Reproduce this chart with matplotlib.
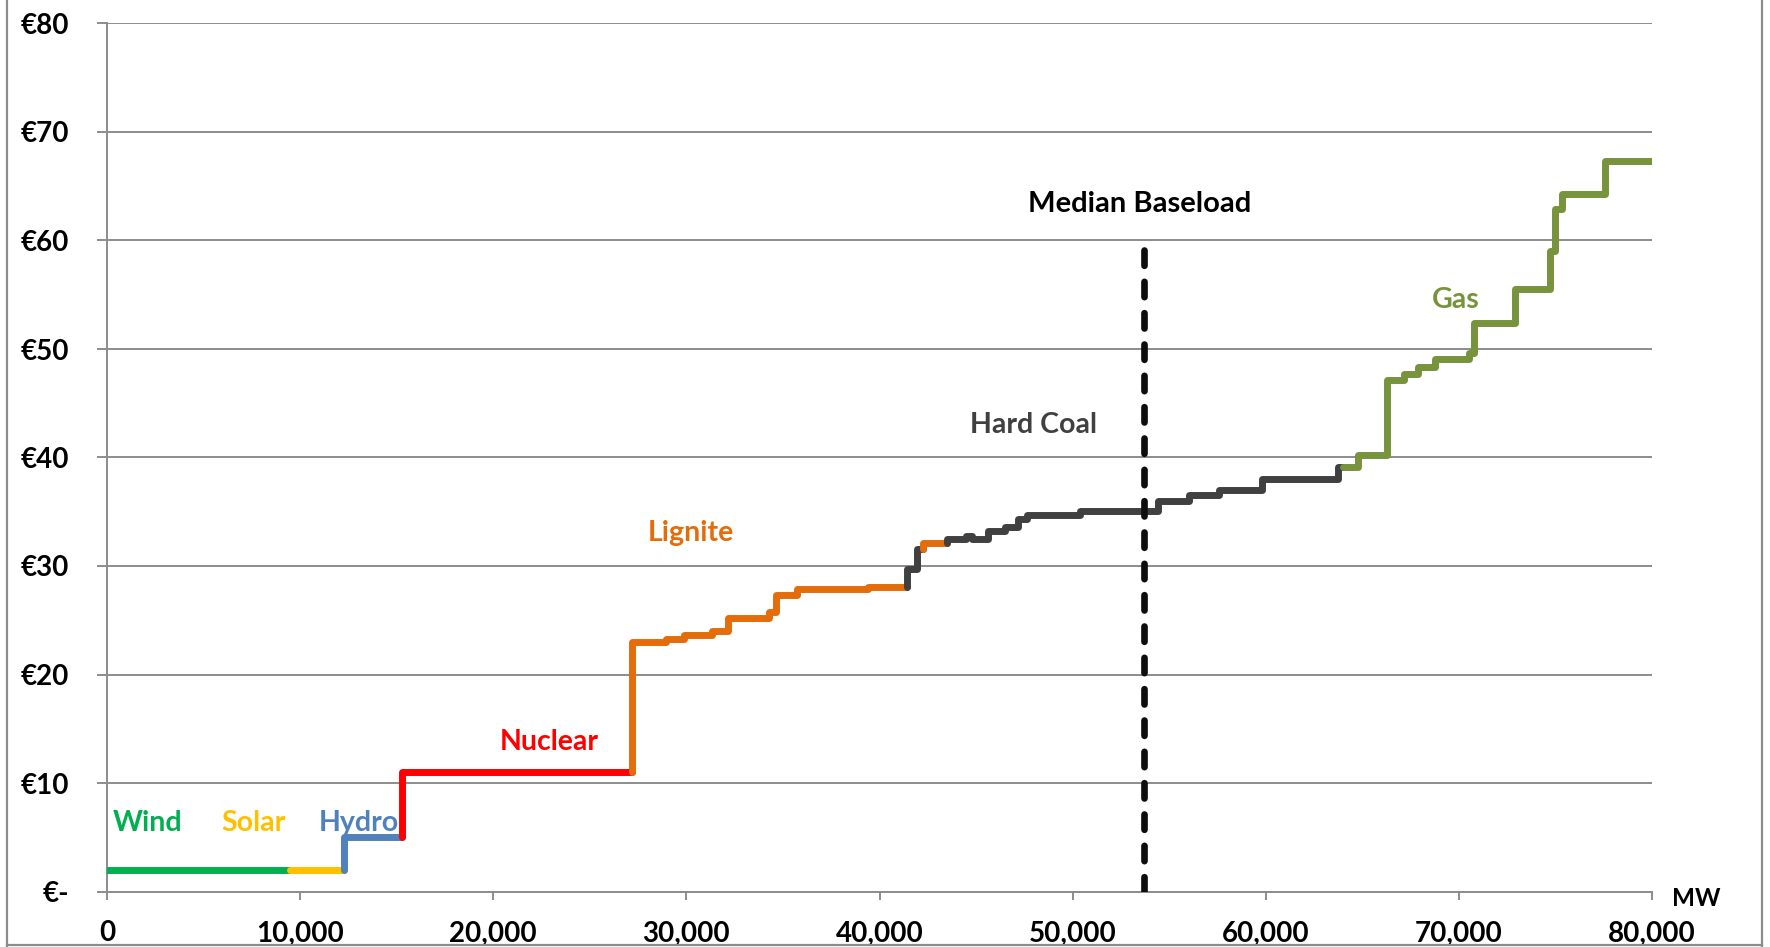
import matplotlib
matplotlib.use("Agg")
import matplotlib.pyplot as plt
from matplotlib.lines import Line2D
from matplotlib.ticker import FixedLocator, FuncFormatter

plt.rcParams['font.family'] = ['Lato', 'DejaVu Sans']
plt.rcParams['font.weight'] = 'bold'

# ---- data: merit-order steps (end capacity in MW, price in EUR/MWh, technology)
step_end_mw = [9480, 12290, 15260, 27200,
               28950, 29880, 31310, 32140, 34280, 34640, 35710, 39420, 41420,
               41960, 42270, 43480, 44480, 44770, 45640, 46500, 47190, 47630,
               50390, 54440, 56050, 57600, 59800, 63760, 64000,
               64800, 66300, 67170, 67860, 68770, 70500, 70760, 72910, 74730,
               74990, 75330, 77570, 80000]
step_price = [2.0, 2.0, 5.0, 11.0,
              23.0, 23.3, 23.6, 24.0, 25.2, 25.8, 27.3, 27.9, 28.1,
              29.7, 31.6, 32.1, 32.5, 32.8, 32.5, 33.2, 33.6, 34.3,
              34.7, 35.1, 36.0, 36.5, 37.0, 38.0, 39.1,
              39.1, 40.2, 47.1, 47.7, 48.3, 49.1, 49.6, 52.4, 55.5,
              59.0, 62.9, 64.3, 67.3]
step_tech = ['Wind', 'Solar', 'Hydro', 'Nuclear',
             'Lignite', 'Lignite', 'Lignite', 'Lignite', 'Lignite', 'Lignite',
             'Lignite', 'Lignite', 'Lignite',
             'Hard Coal', 'Hard Coal', 'Lignite', 'Hard Coal', 'Hard Coal',
             'Hard Coal', 'Hard Coal', 'Hard Coal', 'Hard Coal',
             'Hard Coal', 'Hard Coal', 'Hard Coal', 'Hard Coal', 'Hard Coal',
             'Hard Coal', 'Hard Coal',
             'Gas', 'Gas', 'Gas', 'Gas', 'Gas', 'Gas', 'Gas', 'Gas', 'Gas',
             'Gas', 'Gas', 'Gas', 'Gas']

tech_names = ['Wind', 'Solar', 'Hydro', 'Nuclear', 'Lignite', 'Hard Coal', 'Gas']
tech_colors = ['#00B050', '#FFC000', '#4F81BD', '#FF0000', '#E46C0A', '#404040', '#77933C']
label_mw = [2100, 7560, 13020, 22900, 30220, 47950, 69840]
label_price = [6.3, 6.3, 6.3, 13.8, 33.0, 43.0, 54.5]

median_mw = 53670
median_top = 60
median_label = 'Median Baseload'
median_label_pos = (53460, 63.4)

y_ticks = [0, 10, 20, 30, 40, 50, 60, 70, 80]
x_ticks = [0, 10000, 20000, 30000, 40000, 50000, 60000, 70000, 80000]

color_of = dict(zip(tech_names, tech_colors))

# ---- figure
W, H = 1770, 947
fig = plt.figure(figsize=(W / 100, H / 100), dpi=100)
ax = fig.add_axes([107 / W, 1 - 891.5 / H, (1652 - 107) / W, (891.5 - 23.5) / H])
ax.set_xlim(0, 80000)
ax.set_ylim(0, 80)

grey = '#8C8C8C'
for s in ['top', 'right']:
    ax.spines[s].set_visible(False)
for s in ['left', 'bottom']:
    ax.spines[s].set_color(grey)
    ax.spines[s].set_linewidth(1.4)
ax.yaxis.set_major_locator(FixedLocator(y_ticks))
ax.xaxis.set_major_locator(FixedLocator(x_ticks))
ax.grid(axis='y', color=grey, lw=1.4, zorder=0)
ax.set_axisbelow(True)
ax.yaxis.set_major_formatter(FuncFormatter(lambda v, p: '€-' if v == 0 else f'€{int(v)}'))
ax.xaxis.set_major_formatter(FuncFormatter(lambda v, p: f'{int(v):,}'))
ax.tick_params(axis='y', length=7.2, width=1.4, color=grey, pad=20, labelsize=20)
ax.tick_params(axis='x', length=5.8, width=1.4, color=grey, pad=15, labelsize=20)
for lbl in ax.get_xticklabels() + ax.get_yticklabels():
    lbl.set_fontweight('bold')

# ---- step curve, grouped into runs of the same technology
prev_x, prev_p = 0, step_price[0]
i = 0
n = len(step_end_mw)
while i < n:
    tech = step_tech[i]
    xs = [prev_x]
    ys = [prev_p]
    while i < n and step_tech[i] == tech:
        xs += [prev_x, step_end_mw[i]]
        ys += [step_price[i], step_price[i]]
        prev_x, prev_p = step_end_mw[i], step_price[i]
        i += 1
    ax.plot(xs, ys, color=color_of[tech], lw=5.0, solid_capstyle='round',
            solid_joinstyle='round', zorder=3)

# ---- median baseload
ax.plot([median_mw, median_mw], [0, median_top], color='#0D0D0D', lw=4.8,
        dashes=[2.3, 2.4], dash_capstyle='round', zorder=4)
ax.text(median_label_pos[0], median_label_pos[1], median_label, ha='center', va='center',
        fontsize=21, fontweight='bold', color='black')

# ---- technology labels
for name, c, lx, ly in zip(tech_names, tech_colors, label_mw, label_price):
    ax.text(lx, ly, name, ha='center', va='center', fontsize=20.5,
            fontweight='bold', color=c, zorder=5)

# ---- axis unit
fig.text(1696 / W, 1 - 898 / H, 'MW', ha='center', va='center', fontsize=17.5,
         fontweight='bold', color='black')

# ---- outer frame
fig.add_artist(Line2D([7 / W, 7 / W], [0, 1], transform=fig.transFigure, color=grey, lw=1.6))
fig.add_artist(Line2D([1762 / W, 1762 / W], [0, 1], transform=fig.transFigure, color=grey, lw=1.6))
fig.add_artist(Line2D([7 / W, 1762 / W], [1 - 945 / H, 1 - 945 / H], transform=fig.transFigure,
                      color=grey, lw=1.6))

fig.savefig('out.png', dpi=100)
